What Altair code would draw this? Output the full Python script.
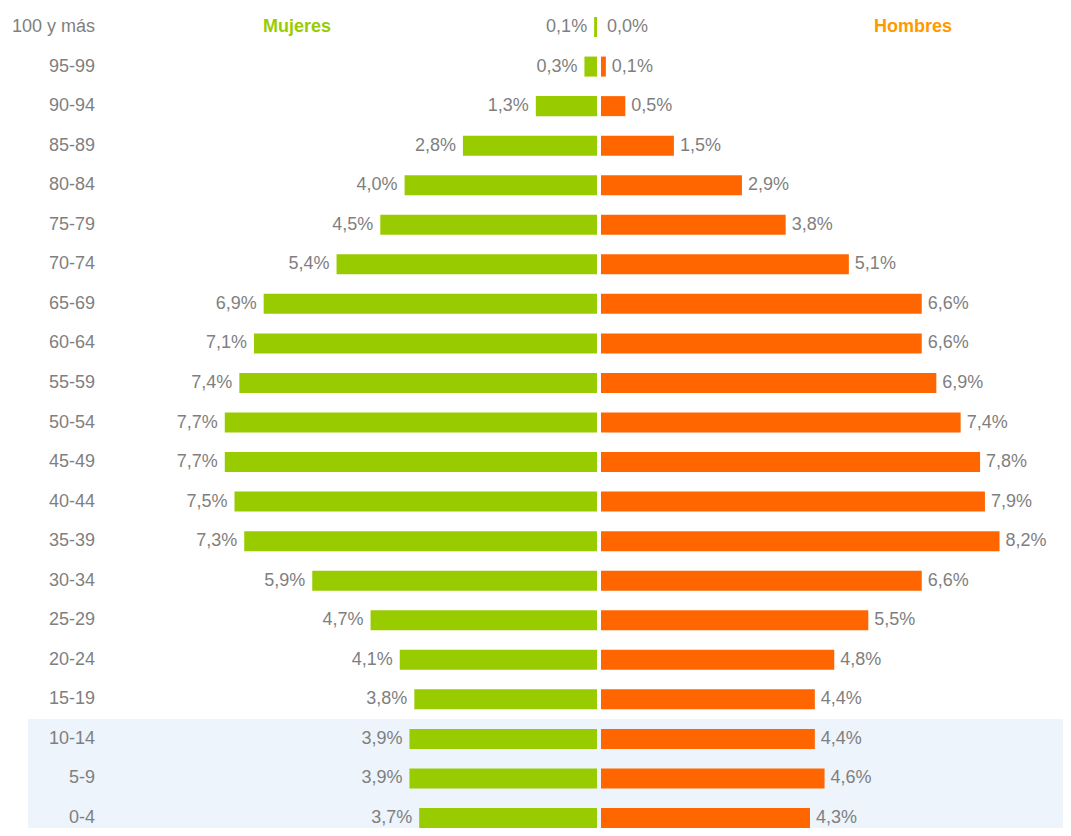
import altair as alt
import pandas as pd

ages = ["100 y más", "95-99", "90-94", "85-89", "80-84", "75-79", "70-74", "65-69",
        "60-64", "55-59", "50-54", "45-49", "40-44", "35-39", "30-34", "25-29",
        "20-24", "15-19", "10-14", "5-9", "0-4"]
mujeres = [0.1, 0.3, 1.3, 2.8, 4.0, 4.5, 5.4, 6.9, 7.1, 7.4, 7.7, 7.7, 7.5, 7.3,
           5.9, 4.7, 4.1, 3.8, 3.9, 3.9, 3.7]
hombres = [0.0, 0.1, 0.5, 1.5, 2.9, 3.8, 5.1, 6.6, 6.6, 6.9, 7.4, 7.8, 7.9, 8.2,
           6.6, 5.5, 4.8, 4.4, 4.4, 4.6, 4.3]
highlight_rows = ["10-14", "5-9", "0-4"]
titles = ["Mujeres", "Hombres"]


def fmt(v):
    return f"{v:.1f}".replace(".", ",") + "%"


df = pd.DataFrame({
    "age": ages,
    "m": mujeres,
    "h": hombres,
})
df["m_neg"] = -df["m"]
df["zero"] = 0.0
df["m_lab"] = [fmt(v) for v in mujeres]
df["h_lab"] = [fmt(v) for v in hombres]

hl = pd.DataFrame({"age": highlight_rows})
tt = pd.DataFrame({"age": [ages[0]], "t": [titles[0]], "t2": [titles[1]]})

W = 1055
H = 820
PX = 48.6
CENTER = 591
xscale = alt.Scale(domain=[-CENTER / PX, (W - CENTER) / PX], nice=False, zero=False)
yscale = alt.Scale(domain=ages, paddingInner=0.494, paddingOuter=0.114, align=1.0)

FONT = "Liberation Sans"
GRAY = "#7f7f7f"

base = alt.Chart(df)
Y = alt.Y("age:N", scale=yscale, axis=None)

band = alt.Chart(hl).mark_bar(height=40, color="#edf4fc").encode(
    y=Y, x=alt.value(20), x2=alt.value(W)
)

green = base.mark_bar(color="#99cc00", x2Offset=-2).encode(
    y=Y,
    x=alt.X("m_neg:Q", scale=xscale, axis=None),
    x2="zero:Q",
)
orange = base.mark_bar(color="#ff6600", xOffset=2, x2Offset=2).encode(
    y=Y,
    x=alt.X("zero:Q", scale=xscale, axis=None),
    x2="h:Q",
)
agelab = base.mark_text(align="right", baseline="middle", font=FONT,
                        fontSize=18, color=GRAY).encode(
    y=Y, x=alt.value(87), text="age:N"
)
mlab = base.mark_text(align="right", baseline="middle", dx=-7, font=FONT,
                      fontSize=18, color=GRAY).encode(
    y=Y, x=alt.X("m_neg:Q", scale=xscale, axis=None), text="m_lab:N"
)
hlab = base.mark_text(align="left", baseline="middle", dx=8, font=FONT,
                      fontSize=18, color=GRAY).encode(
    y=Y, x=alt.X("h:Q", scale=xscale, axis=None), text="h_lab:N"
)
t1 = alt.Chart(tt).mark_text(align="center", baseline="middle", font=FONT,
                             fontSize=18, fontWeight="bold", color="#99cc00").encode(
    y=Y, x=alt.value(289), text="t:N"
)
t2 = alt.Chart(tt).mark_text(align="center", baseline="middle", font=FONT,
                             fontSize=18, fontWeight="bold", color="#ff9900").encode(
    y=Y, x=alt.value(905), text="t2:N"
)

chart = alt.layer(band, green, orange, agelab, mlab, hlab, t1, t2).properties(
    width=W, height=H, padding=0, background="white",
    autosize=alt.AutoSizeParams(type="none")
).configure_view(strokeWidth=0, stroke="transparent")

chart.save("out.html", embed_options={"renderer": "svg", "actions": False})
